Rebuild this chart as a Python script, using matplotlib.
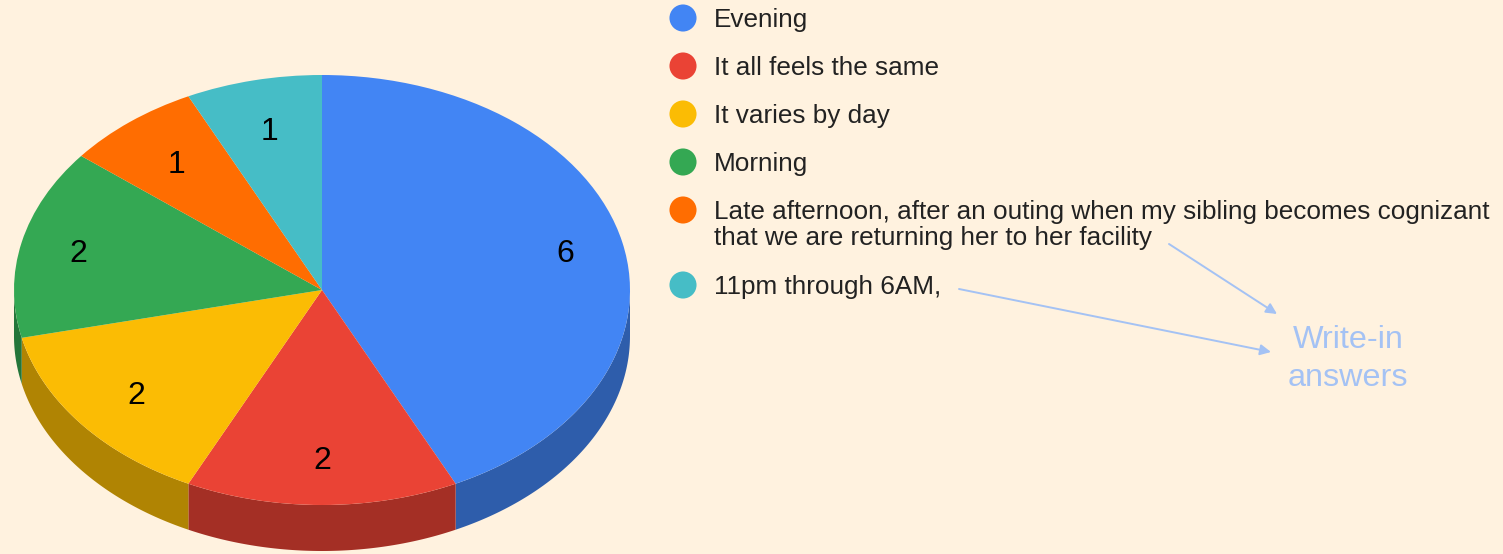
import numpy as np
import matplotlib
matplotlib.use('Agg')
import matplotlib.pyplot as plt

plt.rcParams['font.family'] = ['Liberation Sans', 'DejaVu Sans']

# chart data
categories = ['Evening', 'It all feels the same', 'It varies by day', 'Morning',
              'Late afternoon, after an outing when my sibling becomes cognizant\nthat we are returning her to her facility',
              '11pm through 6AM,']
values = [6, 2, 2, 2, 1, 1]
colors = ['#4285F4', '#EA4335', '#FBBC04', '#34A853', '#FF6D01', '#46BDC6']
note_lines = 'Write-in\nanswers'

# layout, in pixels of the 1503x554 picture
W, H = 1503, 554
BG = '#FFF2DF'
CX, CY, RX, RY = 322, 290, 308, 215
DEPTH = 46 / RY
legend_rows = [18, 66, 114, 162, 210, 285]
label_radius = [0.81, 0.78, 0.77, 0.81, 0.76, 0.77]


def darken(color, k=0.7):
    return tuple(c * k for c in matplotlib.colors.to_rgb(color))


def draw_sides(ax, vals, cols):
    # wall below the front half of the disc, clockwise angles from the top
    total = sum(vals)
    edges = np.cumsum([0] + list(vals)) / total * 360
    for a0, a1, col in zip(edges[:-1], edges[1:], cols):
        lo, hi = max(a0, 90), min(a1, 270)
        if lo >= hi:
            continue
        t = np.radians(np.linspace(lo, hi, 80))
        x = np.sin(t)
        y = np.cos(t)
        xs = np.concatenate([x, x[::-1]])
        ys = np.concatenate([y, y[::-1] - DEPTH])
        ax.fill(xs, ys, color=darken(col), lw=0, zorder=0.5, clip_on=False)


def main():
    fig = plt.figure(figsize=(W / 100, H / 100), dpi=100, facecolor=BG)

    # the pie axes are stretched over the bounding box of the tilted disc
    ax = fig.add_axes([(CX - RX) / W, (H - CY - RY) / H, 2 * RX / W, 2 * RY / H])
    total = sum(values)
    wedges, _, autotexts = ax.pie(values, colors=colors, startangle=90, counterclock=False,
                                  autopct=lambda p: f'{round(p * total / 100)}', pctdistance=0.8,
                                  wedgeprops={'linewidth': 0},
                                  textprops={'fontsize': 23, 'color': 'black'})
    draw_sides(ax, values, colors)
    ax.set_aspect('auto')
    ax.set_xlim(-1, 1)
    ax.set_ylim(-1, 1)
    for w in wedges:
        w.set_clip_on(False)

    # labels do not sit on one radius in the original, nudge each along its slice
    mids = (np.cumsum(values) - np.array(values) / 2) / total * 2 * np.pi
    for txt, mid, r in zip(autotexts, mids, label_radius):
        txt.set_position((r * np.sin(mid), r * np.cos(mid) - 0.014))

    # overlay for legend and notes, data units are picture pixels
    over = fig.add_axes([0, 0, 1, 1], facecolor='none')
    over.set_xlim(0, W)
    over.set_ylim(H, 0)
    over.axis('off')

    over.scatter([683] * len(colors), legend_rows, s=380, c=colors, linewidths=0)
    for name, y in zip(categories, legend_rows):
        over.text(714, y - 10, name, fontsize=18.85, color='#222222', va='top', ha='left', linespacing=1.09)

    arrow = {'arrowstyle': '-|>', 'color': '#A4C2F4', 'lw': 1.4, 'mutation_scale': 16,
             'shrinkA': 0, 'shrinkB': 0}
    over.annotate('', xy=(1277, 314), xytext=(1169, 244), arrowprops=arrow)
    over.annotate('', xy=(1271, 352), xytext=(959, 289), arrowprops=arrow)
    over.text(1348, 359, note_lines, fontsize=23.3, color='#A4C2F4', ha='center', va='center',
              linespacing=1.36)

    fig.savefig('out.png', dpi=100, facecolor=BG)


if __name__ == "__main__":
    main()
